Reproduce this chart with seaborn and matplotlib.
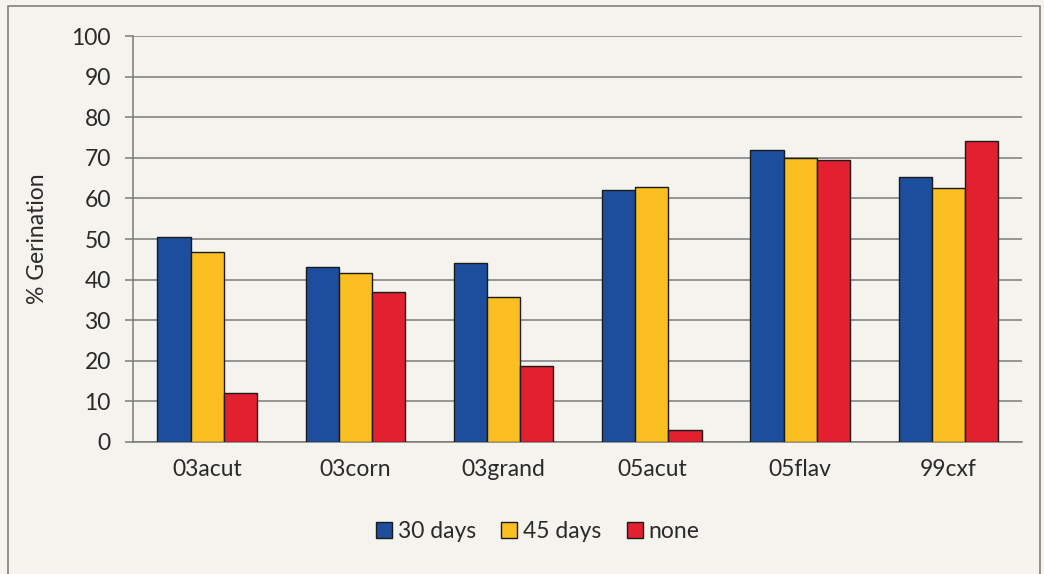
"""
Germination percentage by seed lot and stratification time.
"""

import pandas as pd
import matplotlib.pyplot as plt
import seaborn as sns
from matplotlib.patches import Rectangle

# ============================================================
# Data
# ============================================================
SEED_LOTS = ['03acut', '03corn', '03grand', '05acut', '05flav', '99cxf']
TREATMENTS = ['30 days', '45 days', 'none']
DAYS_30 = [50.6, 43.0, 44.1, 62.1, 72.0, 65.4]
DAYS_45 = [46.7, 41.6, 35.8, 62.8, 69.9, 62.5]
NONE = [12.1, 36.9, 18.7, 3.0, 69.6, 74.2]

COLORS = {'30 days': '#1d4e9e', '45 days': '#fbbf22', 'none': '#e3202f'}
BG = '#f5f3ee'
GRID = '#7a7a7a'
TEXT = '#2a2a2a'

df = pd.DataFrame({
    'lot': SEED_LOTS * 3,
    'treatment': [t for t in TREATMENTS for _ in SEED_LOTS],
    'germ': DAYS_30 + DAYS_45 + NONE,
})

# ============================================================
# Plot
# ============================================================
sns.set_style('white')
plt.rcParams['font.family'] = ['Lato', 'DejaVu Sans']

fig = plt.figure(figsize=(10.44, 5.74), dpi=100, facecolor=BG)
ax = fig.add_axes([0.1274, 0.23, 0.852, 0.707], facecolor=BG)

sns.barplot(data=df, x='lot', y='germ', hue='treatment', order=SEED_LOTS,
            hue_order=TREATMENTS, palette=COLORS, width=0.67,
            edgecolor='#1a1a1a', linewidth=1, saturation=1, ax=ax, zorder=3)

ax.set_ylim(0, 100)
ax.set_yticks(range(0, 101, 10))
ax.set_xlim(-0.5, len(SEED_LOTS) - 0.5)
ax.grid(axis='y', color=GRID, linewidth=1.1, zorder=0)
ax.set_axisbelow(True)

for side in ['top', 'right']:
    ax.spines[side].set_visible(False)
for side in ['left', 'bottom']:
    ax.spines[side].set_color(GRID)
    ax.spines[side].set_linewidth(1.1)

ax.tick_params(axis='y', length=6, width=1.1, color=GRID, labelsize=16.5,
               labelcolor=TEXT, pad=10, left=True)
ax.tick_params(axis='x', length=0, labelsize=16.5, labelcolor=TEXT, pad=12)

ax.set_xlabel('')
ax.set_ylabel('% Gerination', fontsize=16.5, color=TEXT, labelpad=17)

leg = ax.legend(loc='upper center', bbox_to_anchor=(0.455, -0.145), ncol=3,
                frameon=False, fontsize=16.5, handlelength=0.7, handleheight=0.7,
                handletextpad=0.25, columnspacing=1.1)
for txt in leg.get_texts():
    txt.set_color(TEXT)

# outer chart frame
fig.patches.append(Rectangle((8 / 1044, -0.01), 1032 / 1044, 1 - 6 / 574 + 0.01,
                             transform=fig.transFigure, fill=False,
                             edgecolor='#808080', linewidth=1.2))

fig.savefig('out.png', dpi=100, facecolor=BG)
